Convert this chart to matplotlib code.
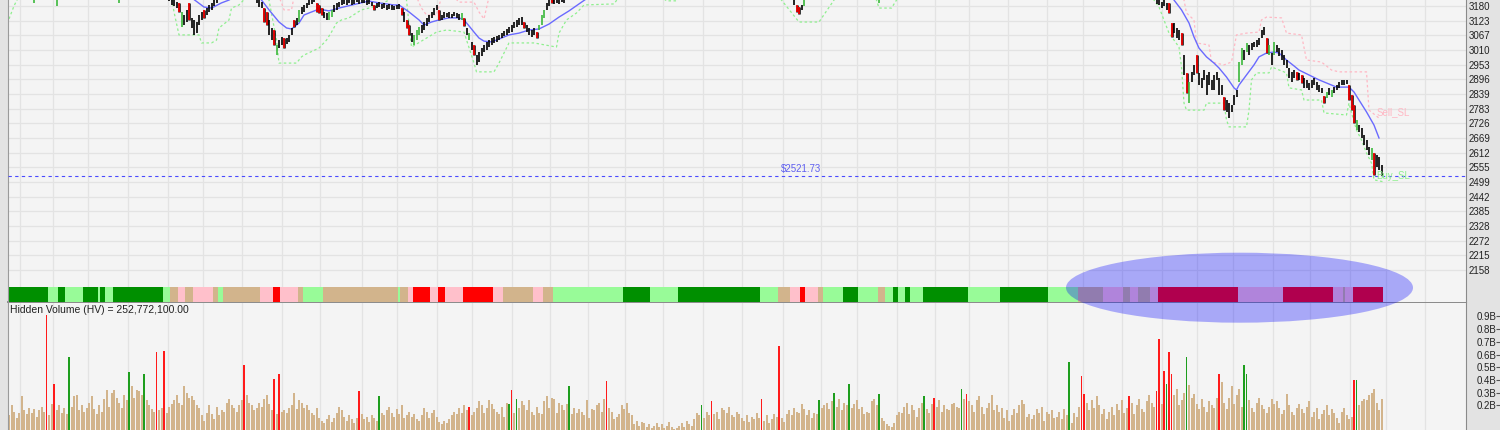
import numpy as np
import matplotlib
matplotlib.use("Agg")
import matplotlib.pyplot as plt
from matplotlib.patches import Ellipse

plt.rcParams["font.family"] = ["Liberation Sans", "DejaVu Sans"]

n_bars = 550

price_ticks = [3180, 3123, 3067, 3010, 2953, 2896, 2839, 2783, 2726, 2669,
               2612, 2555, 2499, 2442, 2385, 2328, 2272, 2215, 2158]
price_top, price_bottom = 3203.2, 2034.1
last_price = 2521.73
price_label_bar = 317
hidden_volume = 252772100.00
vol_ticks_b = [0.9, 0.8, 0.7, 0.6, 0.5, 0.4, 0.3, 0.2]

# daily volume, in units of 10 million shares
volume_10m = [
    12, 20, 15, 10, 14, 27, 16, 13, 18, 14,
    17, 11, 16, 19, 15, 91, 12, 21, 37, 16,
    20, 14, 18, 13, 58, 19, 27, 28, 16, 20,
    15, 18, 22, 27, 17, 13, 20, 15, 25, 32,
    19, 30, 32, 26, 22, 18, 28, 24, 46, 35,
    26, 32, 31, 28, 45, 24, 20, 17, 15, 62,
    16, 18, 63, 14, 19, 21, 24, 28, 22, 20,
    35, 30, 26, 27, 24, 20, 18, 12, 8, 14,
    20, 13, 9, 19, 12, 16, 15, 22, 25, 20,
    18, 15, 20, 24, 52, 28, 22, 20, 16, 18,
    22, 19, 25, 28, 21, 16, 41, 13, 45, 15,
    16, 14, 18, 20, 30, 17, 24, 22, 18, 20,
    16, 14, 12, 18, 10, 8, 6, 9, 12, 7,
    10, 14, 19, 16, 11, 8, 12, 9, 6, 10,
    31, 13, 9, 11, 7, 12, 10, 8, 27, 14,
    12, 16, 19, 14, 11, 17, 13, 20, 10, 12,
    15, 11, 13, 9, 8, 12, 18, 15, 10, 14,
    16, 11, 7, 5, 8, 6, 9, 12, 15, 13,
    18, 14, 20, 16, 19, 12, 15, 18, 23, 20,
    14, 18, 24, 21, 17, 15, 13, 19, 11, 22,
    21, 32, 14, 25, 18, 23, 20, 16, 24, 15,
    12, 19, 14, 13, 23, 27, 18, 26, 25, 14,
    22, 20, 16, 21, 35, 13, 18, 14, 17, 15,
    12, 24, 10, 17, 16, 20, 22, 15, 25, 39,
    18, 15, 9, 11, 13, 20, 17, 22, 14, 12,
    5, 8, 4, 7, 6, 3, 5, 2, 4, 6,
    3, 5, 2, 4, 7, 3, 1, 2, 4, 6,
    3, 8, 5, 4, 9, 14, 12, 20, 10, 15,
    12, 23, 13, 15, 9, 18, 16, 14, 19, 12,
    11, 15, 13, 10, 8, 12, 7, 11, 9, 14,
    10, 25, 8, 12, 6, 9, 13, 11, 67, 10,
    7, 13, 16, 12, 18, 15, 14, 21, 17, 12,
    16, 10, 14, 13, 24, 18, 20, 22, 17, 23,
    30, 19, 25, 16, 22, 20, 37, 18, 21, 24,
    17, 19, 13, 15, 14, 23, 25, 20, 29, 10,
    8, 5, 4, 3, 6, 12, 15, 14, 19, 22,
    13, 20, 16, 11, 18, 22, 27, 17, 14, 21,
    26, 19, 24, 15, 20, 17, 16, 21, 22, 19,
    18, 33, 25, 29, 23, 20, 15, 24, 27, 19,
    13, 18, 22, 28, 16, 20, 15, 18, 10, 16,
    8, 12, 17, 14, 20, 24, 21, 11, 13, 9,
    12, 17, 14, 19, 8, 15, 13, 16, 10, 11,
    15, 9, 17, 12, 54, 6, 14, 11, 19, 43,
    29, 22, 16, 24, 18, 27, 20, 13, 17, 9,
    15, 19, 12, 21, 16, 24, 14, 18, 27, 22,
    13, 20, 25, 17, 15, 23, 28, 22, 19, 31,
    72, 21, 47, 37, 62, 45, 28, 33, 20, 24,
    30, 58, 36, 26, 29, 21, 17, 25, 19, 15,
    23, 20, 18, 26, 45, 38, 22, 17, 26, 35,
    21, 28, 33, 19, 52, 45, 24, 18, 15, 22,
    26, 20, 17, 14, 19, 25, 21, 23, 18, 13,
    16, 29, 20, 15, 12, 18, 21, 17, 14, 19,
    23, 11, 15, 18, 9, 13, 16, 20, 12, 17,
    14, 10, 6, 15, 18, 12, 9, 11, 40, 40,
    20, 23, 25, 24, 28, 30, 33, 22, 16, 25,
]
vol_red = [15, 18, 59, 62, 94, 106, 108, 140, 184, 201, 239, 281, 301, 308,
           370, 383, 429, 430, 448, 459, 460, 462, 464, 465, 484, 538]
vol_green = [24, 48, 54, 148, 200, 203, 224, 277, 324, 330, 336, 348, 366,
             381, 424, 463, 471, 494, 495, 539]

# signal strip: segment start bar and state
strip_start = [0, 16, 20, 23, 30, 36, 37, 39, 42, 62,
               65, 68, 71, 74, 82, 84, 86, 101, 106, 109,
               116, 118, 126, 156, 157, 160, 162, 169, 172, 175,
               182, 194, 198, 210, 214, 218, 246, 257, 268, 284,
               293, 301, 308, 313, 317, 319, 324, 326, 334, 340,
               348, 351, 354, 356, 359, 361, 366, 384, 397, 416,
               428, 438, 446, 449, 452, 457, 460, 492, 510, 530,
               534, 535, 538]
strip_state = ["DG", "LG", "DG", "LG", "DG", "LG", "DG", "LG", "DG", "LG",
               "TN", "PK", "TN", "PK", "TN", "LG", "TN", "PK", "RD", "PK",
               "TN", "LG", "TN", "LG", "TN", "PK", "RD", "PK", "RD", "PK",
               "RD", "PK", "TN", "PK", "TN", "LG", "DG", "LG", "DG", "DG",
               "DG", "LG", "TN", "PK", "RD", "PK", "TN", "LG", "DG", "LG",
               "TN", "LG", "DG", "LG", "DG", "LG", "DG", "LG", "DG", "LG",
               "TN", "PK", "TN", "PK", "TN", "PK", "RD", "PK", "RD", "PK",
               "TN", "PK", "RD"]
strip_colors = {"DG": "#008f00", "LG": "#98fb98", "TN": "#d2b48c",
                "PK": "#ffc0cb", "RD": "#ff0000"}

# price bars that reach into the visible price range
bar_idx = ([10, 19, 44] + list(range(64, 84)) + list(range(99, 223))
           + list(range(314, 319)) + [348] + list(range(459, 550)))
bar_hi = [
    3240, 3235, 3240,
    3222, 3215, 3212, 3195, 3192, 3157, 3145, 3165, 3192, 3134,
    3126, 3118, 3145, 3157, 3165, 3172, 3184, 3192, 3205, 3215,
    3212, 3205, 3195, 3172, 3157, 3126, 3095, 3087, 3029, 3048,
    3060, 3056, 3056, 3068, 3095, 3126, 3134, 3165, 3176, 3184,
    3192, 3203, 3211, 3215, 3192, 3184, 3172, 3157, 3153, 3157,
    3165, 3184, 3192, 3195, 3203, 3207, 3203, 3211, 3207, 3203,
    3211, 3203, 3207, 3211, 3203, 3203, 3195, 3184, 3192, 3195,
    3188, 3192, 3184, 3188, 3184, 3180, 3184, 3188, 3172, 3157,
    3126, 3106, 3075, 3068, 3087, 3099, 3106, 3118, 3134, 3145,
    3157, 3172, 3184, 3165, 3145, 3157, 3153, 3157, 3149, 3157,
    3153, 3149, 3153, 3134, 3095, 3075, 3041, 3029, 2990, 3002,
    3017, 3029, 3041, 3048, 3056, 3060, 3064, 3068, 3075, 3083,
    3091, 3099, 3106, 3118, 3126, 3134, 3137, 3118, 3106, 3095,
    3087, 3095, 3079, 3106, 3145, 3165, 3192, 3203, 3211, 3207,
    3211, 3207, 3211, 3215,
    3211, 3184, 3176, 3184, 3207,
    3215,
    3211, 3207, 3195, 3203, 3192, 3192, 3114, 3114, 3095, 3087,
    3075, 2990, 2921, 2886, 2925, 2952, 2990, 2921, 2901, 2932,
    2913, 2925, 2894, 2913, 2925, 2901, 2874, 2828, 2816, 2804,
    2797, 2835, 2855, 2963, 3017, 3010, 3037, 3029, 3037, 3041,
    3048, 3056, 3087, 3099, 3056, 3029, 2998, 3041, 3029, 3017,
    3010, 2990, 2971, 2940, 2925, 2932, 2925, 2921, 2913, 2901,
    2894, 2882, 2894, 2901, 2886, 2874, 2863, 2832, 2847, 2863,
    2855, 2866, 2874, 2886, 2894, 2894, 2894, 2874, 2835, 2797,
    2739, 2719, 2708, 2681, 2661, 2634, 2630, 2611, 2603, 2595,
    2565,
]
bar_lo = [
    3192, 3180, 3192,
    3199, 3184, 3180, 3172, 3157, 3099, 3106, 3118, 3126, 3095,
    3068, 3075, 3106, 3126, 3134, 3145, 3157, 3165, 3180, 3192,
    3192, 3176, 3172, 3118, 3106, 3068, 3048, 3029, 2990, 3017,
    3029, 3017, 3033, 3041, 3068, 3099, 3106, 3118, 3149, 3157,
    3172, 3184, 3188, 3195, 3157, 3153, 3145, 3134, 3126, 3126,
    3137, 3157, 3165, 3176, 3184, 3188, 3184, 3192, 3184, 3188,
    3195, 3188, 3192, 3192, 3184, 3188, 3180, 3165, 3172, 3176,
    3168, 3172, 3165, 3168, 3165, 3165, 3168, 3168, 3145, 3118,
    3095, 3068, 3041, 3029, 3048, 3068, 3075, 3087, 3103, 3118,
    3134, 3145, 3165, 3126, 3126, 3134, 3137, 3134, 3134, 3141,
    3134, 3126, 3126, 3103, 3068, 3048, 3010, 2990, 2952, 2963,
    2986, 3002, 3010, 3021, 3029, 3037, 3041, 3048, 3056, 3064,
    3068, 3075, 3079, 3095, 3099, 3106, 3106, 3095, 3079, 3068,
    3060, 3068, 3056, 3087, 3106, 3134, 3165, 3180, 3192, 3188,
    3192, 3188, 3195, 3192,
    3184, 3157, 3149, 3165, 3180,
    3192,
    3188, 3184, 3172, 3180, 3165, 3153, 3060, 3075, 3056, 3048,
    3029, 2913, 2843, 2804, 2886, 2913, 2921, 2874, 2863, 2894,
    2835, 2874, 2855, 2855, 2894, 2835, 2835, 2777, 2770, 2746,
    2770, 2797, 2828, 2886, 2952, 2971, 3002, 2990, 3010, 3021,
    3021, 3029, 3056, 3068, 2998, 2990, 2952, 2990, 3002, 2986,
    2971, 2952, 2940, 2901, 2886, 2901, 2894, 2894, 2882, 2863,
    2863, 2855, 2863, 2874, 2855, 2847, 2843, 2804, 2824, 2835,
    2828, 2843, 2855, 2863, 2874, 2874, 2878, 2816, 2777, 2727,
    2700, 2692, 2669, 2642, 2623, 2603, 2584, 2526, 2557, 2545,
    2521,
]
candle_red = [68, 72, 78, 102, 103, 106, 110, 114, 123, 124, 125, 146, 157,
              159, 160, 172, 182, 186, 206, 211, 217, 315, 316, 464, 465,
              469, 471, 475, 486, 503, 515, 517, 526, 536, 537, 538, 546]
candle_green = [10, 19, 44, 69, 107, 116, 128, 129, 162, 163, 164, 181, 184,
                212, 213, 214, 318, 348, 472, 492, 493, 495, 504, 506, 527,
                529, 539, 545]

# moving average (visible stretches, None = off chart)
sma_x = [73, 74, 78, 81, 85, 88, 90, None,
         100, 101, 104, 108, 111, 113, 116, 118, 120, 124, 128, 132, 139,
         144, 148, 154, 156, 160, 164, 166, 169, 172, 176, 180, 182, 184,
         186, 188, 190, 193, 196, 200, 204, 208, 212, 216, 220, 224, 228,
         232, None,
         465, 466, 469, 472, 474, 476, 479, 482, 484, 487, 490, 491, 492,
         495, 498, 500, 503, 506, 508, 511, 514, 516, 520, 524, 528, 531,
         533, 536, 538, 540, 543, 546, 548]
sma_y = [3215, 3205, 3176, 3172, 3192, 3203, 3215, None,
         3215, 3203, 3165, 3118, 3095, 3091, 3114, 3145, 3153, 3168, 3161,
         3172, 3188, 3199, 3192, 3184, 3184, 3157, 3126, 3106, 3118, 3126,
         3134, 3134, 3126, 3103, 3079, 3056, 3044, 3041, 3052, 3068, 3075,
         3087, 3091, 3110, 3137, 3161, 3188, 3215, None,
         3215, 3203, 3165, 3114, 3060, 3017, 2983, 2959, 2940, 2905, 2863,
         2855, 2874, 2913, 2952, 2983, 2998, 3002, 2998, 2971, 2948, 2932,
         2913, 2894, 2878, 2866, 2866, 2866, 2847, 2816, 2770, 2719, 2669]

# trailing stops
buy_sl_x = [0, 2, 3, 4, None,
            65, 66, 68, 76, 77, 81, 83, 84, 88, 89, 92, 95, None,
            103, 104, 107, 108, 115, 117, 118, 124, 127, 129, 131, 133, 136,
            139, 141, 144, 148, 152, 154, None,
            158, 159, 161, 171, 175, 182, 186, 187, 194, 196, 200, 210, 219,
            220, 223, 227, 230, 242, 244, None,
            261, 263, 267, 269, None,
            308, 309, 316, 324, 330, 331, None,
            346, 347, 348, 353, 355, 356, None,
            457, 458, 460, 464, 468, 469, 470, 471, 478, 479, 486, 487, 488,
            495, 496, 497, 499, 504, 505, 511, 512, 517, 518, 525, 526, 535,
            536, 537, 539, 541, 543, 545, 546, 550]
buy_sl_y = [3130, 3180, 3200, 3215, None,
            3215, 3157, 3068, 3068, 3037, 3037, 3048, 3095, 3126, 3172, 3184,
            3215, None,
            3215, 3203, 3048, 2959, 2959, 2983, 2990, 3017, 3048, 3079, 3114,
            3126, 3134, 3153, 3165, 3172, 3184, 3203, 3215, None,
            3215, 3203, 3021, 3079, 3087, 3079, 2959, 2925, 2925, 2959, 3037,
            3037, 3021, 3075, 3126, 3153, 3184, 3188, 3215, None,
            3215, 3200, 3200, 3215, None,
            3215, 3203, 3118, 3118, 3203, 3215, None,
            3215, 3203, 3172, 3172, 3203, 3215, None,
            3215, 3203, 3176, 3075, 3021, 2944, 2804, 2777, 2777, 2804, 2804,
            2739, 2712, 2712, 2777, 2894, 2921, 2921, 2944, 2921, 2863, 2855,
            2816, 2816, 2766, 2758, 2804, 2766, 2700, 2661, 2611, 2572, 2507,
            2499]
sell_sl_x = [108, 109, 110, 113, 114, None,
             163, 165, 167, 171, 173, None,
             178, 180, 186, 188, 190, 192, None,
             469, 470, 471, 474, 475, 480, 481, 486, 489, 491, 495, 500, 501,
             503, 509, 511, 517, 519, 525, 528, 529, 532, 543, 544, 548]
sell_sl_y = [3215, 3192, 3165, 3165, 3215, None,
             3215, 3172, 3145, 3145, 3215, None,
             3215, 3195, 3195, 3157, 3130, 3215, None,
             3215, 3203, 3153, 3126, 3037, 3029, 2963, 2952, 2963, 3068, 3075,
             3079, 3126, 3137, 3134, 3075, 3068, 2971, 2963, 2940, 2932, 2925,
             2925, 2777, 2746]

# bars where the vertical grid lines fall
grid_bars = [4.4, 17.6, 31.6, 47.6, 63.6, 77.6, 93.2, 109.2, 124.4, 141.2,
             155.2, 171.2, 185.2, 201.2, 216.4, 231.6, 246.4, 261.6, 277.6,
             293.2, 309.6, 324.8, 339.2, 355.2, 370.4, 384, 399.6, 415.2,
             429.6, 445.2, 461.2, 475.2, 489.6, 505.6, 520.4, 536.4, 550.8,
             566.4]

# highlighted zone (bars, price units)
highlight_bars = (422.8, 561.6)
highlight_price = (1954, 2225)

assert len(volume_10m) == n_bars
assert len(bar_idx) == len(bar_hi) == len(bar_lo)
assert len(strip_start) == len(strip_state)

# ---- figure ----
fig = plt.figure(figsize=(15, 4.3), dpi=100, facecolor="#e3e3e3")
ax_p = fig.add_axes([8 / 1500, 128 / 430, 1458 / 1500, 302 / 430])
ax_v = fig.add_axes([8 / 1500, 0, 1458 / 1500, 128 / 430], sharex=ax_p)
ax_p.set_zorder(3)
ax_v.set_zorder(2)

grid_kw = dict(color="#e3e3e3", lw=0.9)
for ax in (ax_p, ax_v):
    ax.set_facecolor("#f4f4f4")
    ax.set_axisbelow(True)
    ax.set_xticks(grid_bars)
    ax.tick_params(axis="x", length=0, labelbottom=False)
    ax.grid(True, axis="x", **grid_kw)
    ax.yaxis.tick_right()
    ax.spines["left"].set_color("#9a9a9a")
    ax.spines["right"].set_color("#8a8a8a")
    ax.spines["bottom"].set_visible(False)
ax_p.spines["top"].set_visible(False)
ax_v.spines["top"].set_color("#8a8a8a")
ax_v.spines["top"].set_linewidth(1.4)

ax_p.set_xlim(-0.4, 582.8)

# price panel
ax_p.set_ylim(price_bottom, price_top)
ax_p.set_yticks(price_ticks)
ax_p.set_yticklabels([str(t) for t in price_ticks])
ax_p.grid(True, axis="y", **grid_kw)
ax_p.tick_params(axis="y", length=0, pad=2.2, labelsize=7, labelcolor="#222222")

ax_p.plot(np.array(sma_x, dtype=float), np.array(sma_y, dtype=float),
          color="#6a6aff", lw=1.0, zorder=3)
ax_p.plot(np.array(buy_sl_x, dtype=float), np.array(buy_sl_y, dtype=float),
          color="#8fef8f", lw=0.9, ls=(0, (2, 2)), zorder=2)
ax_p.plot(np.array(sell_sl_x, dtype=float), np.array(sell_sl_y, dtype=float),
          color="#ffb8c4", lw=0.9, ls=(0, (2, 2)), zorder=2)

colors = ["#000000"] * len(bar_idx)
pos = {b: k for k, b in enumerate(bar_idx)}
for b in candle_red:
    colors[pos[b]] = "#ff0000"
for b in candle_green:
    colors[pos[b]] = "#3cb83c"
red_k = [pos[b] for b in candle_red]
ax_p.vlines([bar_idx[k] for k in red_k], [bar_lo[k] for k in red_k],
            [bar_hi[k] for k in red_k], colors="#000000", lw=1.8, zorder=4)
ax_p.vlines(bar_idx, bar_lo, bar_hi, colors=colors, lw=1.2, zorder=5)

ax_p.axhline(last_price, color="#4a4aff", lw=0.8, ls=(0, (3, 3)), zorder=3)
ax_p.text(price_label_bar, last_price + 8, f"${last_price:.2f}", color="#6060f0",
          fontsize=7, ha="center", va="bottom", zorder=6)
ax_p.text(bar_idx[-1] - 2, sell_sl_y[-1] + 2, "Sell_SL", color="#ffb8c4",
          fontsize=7, ha="left", va="bottom", zorder=6)
ax_p.text(bar_idx[-1] - 2, buy_sl_y[-1] + 2, "Buy_SL", color="#8fef8f",
          fontsize=7, ha="left", va="bottom", zorder=6)

# signal strip along the bottom of the price panel
strip_end = strip_start[1:] + [n_bars]
for s, e, st in zip(strip_start, strip_end, strip_state):
    ax_p.axvspan(s - 0.5, e - 0.5, ymin=0, ymax=15 / 302,
                 color=strip_colors[st], lw=0, zorder=2)

h0, h1 = highlight_bars
p0, p1 = highlight_price
ax_p.add_patch(Ellipse(((h0 + h1) / 2, (p0 + p1) / 2), h1 - h0, p1 - p0,
                       facecolor=(0, 0, 1, 0.31), edgecolor="none",
                       clip_on=False, zorder=20))

# volume panel
vol = np.array(volume_10m, dtype=float) * 1e7
x = np.arange(n_bars)
spikes = set(vol_red) | set(vol_green)
tan = [i for i in x if i not in spikes]
ax_v.bar(tan, vol[tan], width=0.8, color="#d2b48c", lw=0, zorder=2)
ax_v.bar(vol_red, vol[vol_red], width=0.55, color="#ff1a1a", lw=0, zorder=3)
ax_v.bar(vol_green, vol[vol_green], width=0.55, color="#1e9e1e", lw=0, zorder=3)
ax_v.set_ylim(0.0055e9, 1.0134e9)
ax_v.set_yticks([t * 1e9 for t in vol_ticks_b])
ax_v.set_yticklabels([f"{t:.1f}B" for t in vol_ticks_b])
ax_v.tick_params(axis="y", length=0, pad=8, labelsize=7, labelcolor="#222222")
ax_v.text(0.0015, 1 - 8 / 128, f"Hidden Volume (HV) = {hidden_volume:,.2f}",
          transform=ax_v.transAxes, fontsize=7.5, color="#222222",
          ha="left", va="center")

# small tick dashes at the right edge of the volume scale
sec = ax_v.secondary_yaxis(1 + 34 / 1458)
sec.set_yticks([t * 1e9 for t in vol_ticks_b])
sec.tick_params(axis="y", direction="in", length=3, width=0.8,
                color="#555555", labelright=False)
sec.spines["right"].set_visible(False)

fig.savefig("out.png", dpi=100, facecolor=fig.get_facecolor())
